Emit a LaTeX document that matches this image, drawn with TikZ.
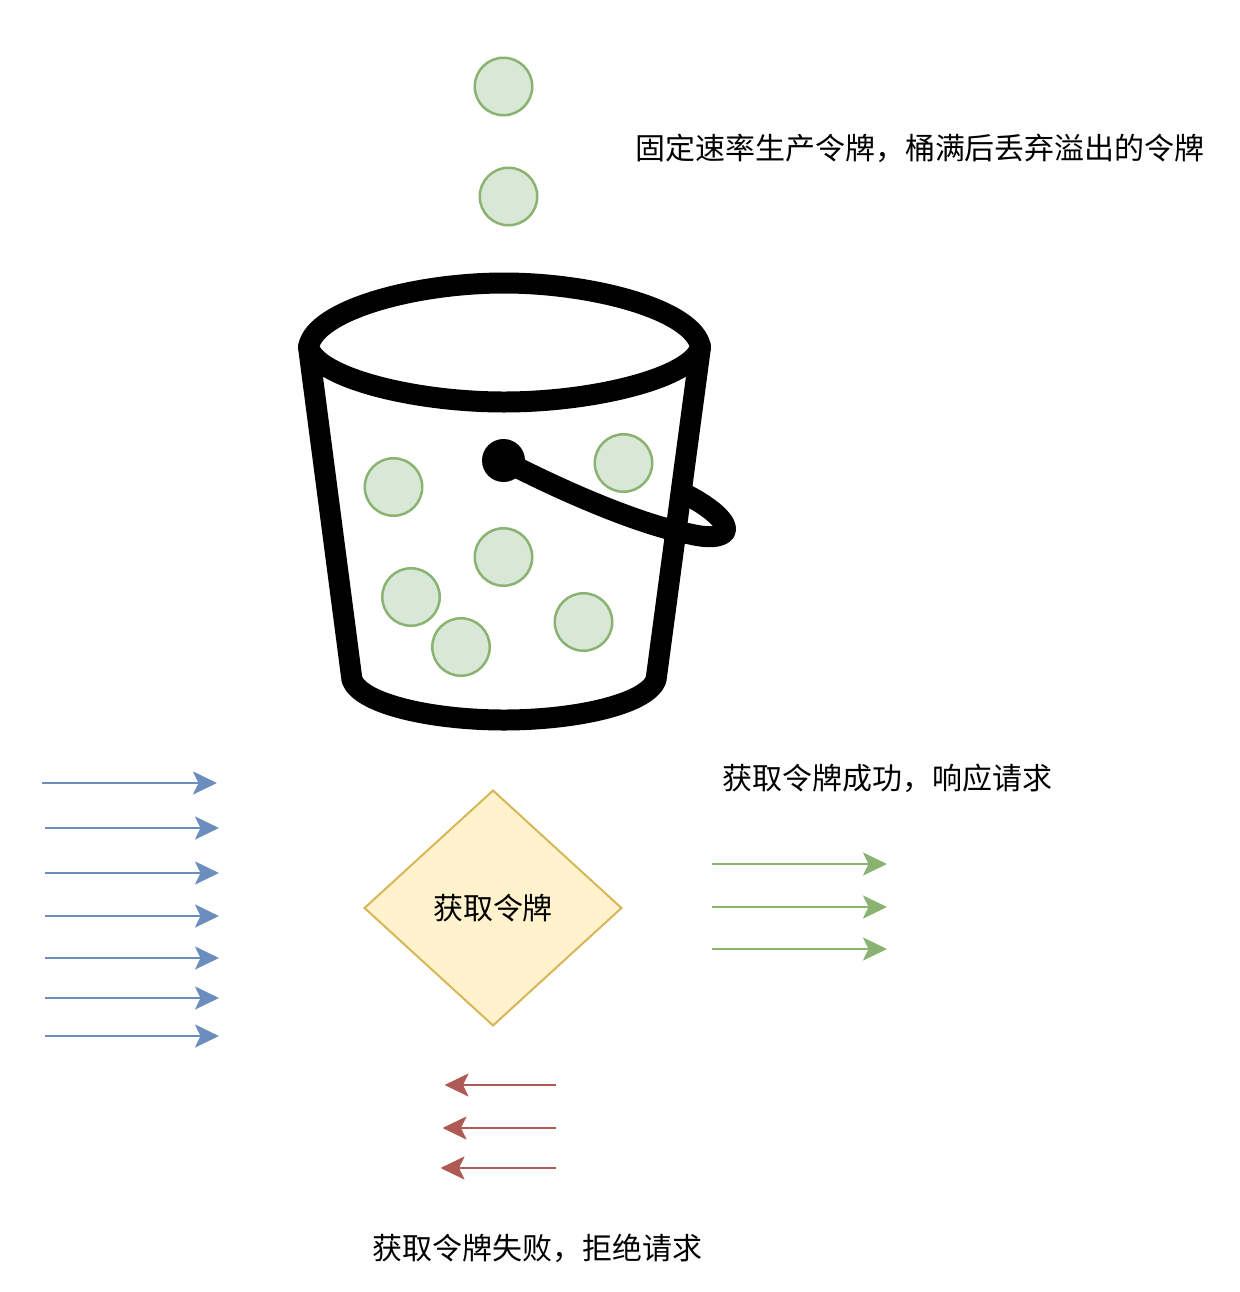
\documentclass[tikz,border=0pt]{standalone}
\usepackage{fontspec}
\usetikzlibrary{arrows.meta,shapes.geometric}
\newfontfamily\cjk{Noto Sans CJK SC}
\definecolor{tokengreen}{HTML}{8AB372}
\definecolor{tokenfill}{HTML}{D9E8D6}
\definecolor{reqblue}{HTML}{6C8EBF}
\definecolor{rejectred}{HTML}{B05A55}
\definecolor{gateline}{HTML}{D6B656}
\definecolor{gatefill}{HTML}{FFF2CC}
\tikzset{
    token/.style={circle, draw=tokengreen, fill=tokenfill, line width=0.05cm, minimum size=1.15cm, inner sep=0pt},
    bucketline/.style={line width=0.42cm, black, line join=round, line cap=round},
    flow/.style={line width=0.05cm, -{Stealth[length=0.48cm, width=0.46cm, inset=0.11cm]}},
    label/.style={font=\cjk\fontsize{17.07pt}{20pt}\selectfont, inner sep=0pt},
}
\begin{document}
\begin{tikzpicture}[x=0.02cm, y=-0.02cm]
    \useasboundingbox (0,0) rectangle (1240,1292);

    % Falling tokens and the ones inside the bucket
    \foreach \name/\xval/\yval in {a/503.5/86.5, b/508.5/196.5, c/393.5/487, d/623.5/463,
        e/503.5/557, f/411/597, g/461/647, h/583.5/622}
        \node[token] (token\name) at (\xval,\yval) {};

    % Bucket rim
    \draw[bucketline] (308.5,347) .. controls (315,310) and (415,283) .. (504,283)
        .. controls (593,283) and (694,310) .. (700.5,347)
        .. controls (692,378) and (593,402) .. (504,402)
        .. controls (415,402) and (317,378) .. (308.5,347) -- cycle;
    % Bucket body
    \draw[bucketline] (308.5,347) -- (352,680)
        .. controls (362,705) and (435,720) .. (504,720)
        .. controls (573,720) and (646,705) .. (656,680) -- (700.5,347);
    % Handle
    \fill[black] (503.5,460.5) circle (21.5);
    \draw[bucketline] (503.5,460.5) .. controls (560,490) and (640,525) .. (690,534)
        .. controls (715,540) and (727,535) .. (725.5,528)
        .. controls (724,518) and (705,504) .. (685,494);

    % Decision
    \node[diamond, draw=gateline, fill=gatefill, line width=0.04cm, aspect=1.09, inner sep=0pt,
        outer sep=0pt, minimum width=5.14cm, minimum height=4.7cm, label] (gate) at (493,908) {获取令牌};

    % Incoming requests
    \foreach \name/\xa/\xb/\yval in {a/42/217/783, b/44.5/219/828, c/44.5/219/873, d/44.5/219/916,
        e/44.5/219/958, f/44.5/219/998, g/44.5/219/1036} {
        \coordinate (in\name) at (\xa,\yval);
        \coordinate (gate\name) at (\xb,\yval);
        \draw[flow, reqblue] (in\name) -- (gate\name);
    }

    % Accepted requests
    \foreach \name/\yval in {a/864, b/907, c/949} {
        \coordinate (ok\name) at (712,\yval);
        \coordinate (okend\name) at (887,\yval);
        \draw[flow, tokengreen] (ok\name) -- (okend\name);
    }

    % Rejected requests
    \foreach \name/\xb/\yval in {a/444.5/1085, b/442.5/1128, c/440.5/1168} {
        \coordinate (no\name) at (556,\yval);
        \coordinate (noend\name) at (\xb,\yval);
        \draw[flow, rejectred] (no\name) -- (noend\name);
    }

    \node[label] (ratetext) at (920,148) {固定速率生产令牌，桶满后丢弃溢出的令牌};
    \node[label] (oktext) at (887.5,778) {获取令牌成功，响应请求};
    \node[label] (notext) at (537.5,1248) {获取令牌失败，拒绝请求};
\end{tikzpicture}
\end{document}
